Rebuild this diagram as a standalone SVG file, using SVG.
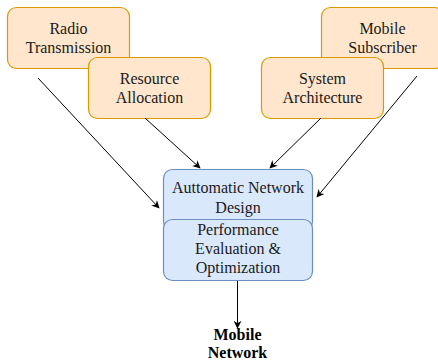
<svg xmlns="http://www.w3.org/2000/svg" width="438" height="364" viewBox="0 0 438 364">
<defs>
<marker id="ah" viewBox="0 0 10 10" refX="9" refY="5" markerWidth="8" markerHeight="8" markerUnits="userSpaceOnUse" orient="auto">
<path d="M0,0 L10,5 L0,10 L3,5 Z" fill="#000"/>
</marker>
<style>
.o{fill:#ffe6cc;stroke:#d79b00;stroke-width:1.2}
.b{fill:#dae8fc;stroke:#6c8ebf;stroke-width:1.2}
text{font-family:'Liberation Serif','Times New Roman','DejaVu Serif',serif}
.t{font-size:16px;fill:#1a1a1a;text-anchor:middle}
.bt{font-size:16px;font-weight:bold;fill:#000;text-anchor:middle}
.c{stroke:#000;stroke-width:1;fill:none;marker-end:url(#ah)}
</style>
</defs>
<rect width="438" height="364" fill="#fff"/>
<g id="radio">
<rect class="o" x="7.5" y="7.5" width="122" height="61" rx="9"/>
<text class="t" x="68.5" y="34">Radio</text>
<text class="t" x="68.5" y="53">Transmission</text>
</g>
<g id="mobile-subscriber">
<rect class="o" x="321.5" y="7.5" width="122" height="61" rx="9"/>
<text class="t" x="382.5" y="34">Mobile</text>
<text class="t" x="382.5" y="53">Subscriber</text>
</g>
<g id="resource">
<rect class="o" x="88.5" y="57.5" width="122" height="61" rx="9"/>
<text class="t" x="149.5" y="84">Resource</text>
<text class="t" x="149.5" y="103">Allocation</text>
</g>
<g id="system">
<rect class="o" x="261.5" y="57.5" width="122" height="61" rx="9"/>
<text class="t" x="322.5" y="84">System</text>
<text class="t" x="322.5" y="103">Architecture</text>
</g>
<g id="connectors">
<line class="c" x1="38" y1="78" x2="159" y2="208"/>
<line class="c" x1="145" y1="118" x2="200" y2="168"/>
<line class="c" x1="321" y1="118" x2="270" y2="168"/>
<line class="c" x1="417" y1="76" x2="317" y2="197"/>
<line class="c" x1="237.5" y1="280" x2="237.5" y2="328"/>
</g>
<g id="auto-design">
<rect class="b" x="163.5" y="169.5" width="149" height="61" rx="9"/>
<text class="t" x="238" y="193">Auttomatic Network</text>
<text class="t" x="238" y="213">Design</text>
</g>
<g id="performance">
<rect class="b" x="163.5" y="219.5" width="149" height="61" rx="9"/>
<text class="t" x="238" y="235">Performance</text>
<text class="t" x="238" y="254">Evaluation &amp;</text>
<text class="t" x="238" y="273">Optimization</text>
</g>
<g id="mobile-network">
<text class="bt" x="237.5" y="340">Mobile</text>
<text class="bt" x="237.5" y="358">Network</text>
</g>
</svg>
